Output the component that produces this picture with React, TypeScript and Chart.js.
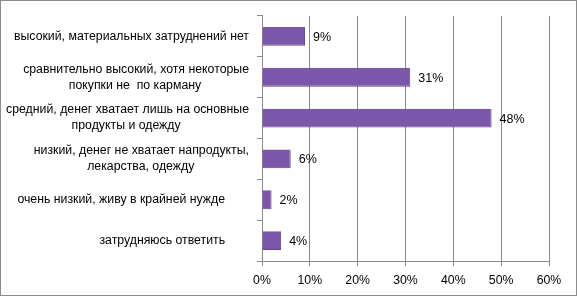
import React, { useEffect, useRef } from "react";
import { Chart, registerables } from "chart.js";

Chart.register(...registerables);

const categories: (string | string[])[] = [
  "высокий, материальных затруднений нет",
  ["сравнительно высокий, хотя некоторые", "покупки не  по карману"],
  ["средний, денег хватает лишь на основные", "продукты и одежду"],
  ["низкий, денег не хватает напродукты,", "лекарства, одежду"],
  "очень низкий, живу в крайней нужде",
  "затрудняюсь ответить",
];
const values = [9, 31, 48, 6, 2, 4];
const xTicks = [0, 10, 20, 30, 40, 50, 60];

const FONT = "'Liberation Sans', Arial, sans-serif";
const LABEL_SIZE = 12.3;

// measure helper for centring wrapped lines of a right-aligned label block
const measureCanvas = typeof document !== "undefined" ? document.createElement("canvas") : null;
function padLines(label: string | string[], extraRight: number): string | string[] {
  const ctx = measureCanvas!.getContext("2d")!;
  ctx.font = `${LABEL_SIZE}px ${FONT}`;
  const space = ctx.measureText(" ").width;
  const lines = Array.isArray(label) ? label : [label];
  const widths = lines.map((l) => ctx.measureText(l).width);
  const maxW = Math.max(...widths);
  const out = lines.map((l, i) => {
    const pad = (maxW - widths[i]) / 2 + extraRight;
    const n = Math.max(0, Math.round(pad / space));
    return l + "\u00a0".repeat(n);
  });
  return Array.isArray(label) ? out : out[0];
}

const valueLabels = {
  id: "valueLabels",
  afterDatasetsDraw(chart: any) {
    const ctx = chart.ctx;
    const meta = chart.getDatasetMeta(0);
    ctx.save();
    ctx.font = `12.5px ${FONT}`;
    ctx.fillStyle = "#000";
    ctx.textBaseline = "middle";
    ctx.textAlign = "left";
    meta.data.forEach((el: any, i: number) => {
      ctx.fillText(values[i] + "%", el.x + 8, el.y + 1);
    });
    ctx.restore();
  },
};

export default function App() {
  const ref = useRef<HTMLCanvasElement>(null);
  useEffect(() => {
    document.body.style.margin = "0";
    const chart = new Chart(ref.current!, {
      type: "bar",
      data: {
        labels: categories,
        datasets: [
          {
            data: values,
            backgroundColor: "#7C56A8",
            borderColor: "#64428C",
            borderWidth: { top: 0, left: 0, right: 1, bottom: 1 } as any,
            barPercentage: 0.46,
            categoryPercentage: 1,
          },
        ],
      },
      plugins: [valueLabels],
      options: {
        indexAxis: "y",
        animation: false,
        responsive: false,
        devicePixelRatio: 1,
        layout: { padding: { left: 0, right: 28, top: 15, bottom: 0 } },
        plugins: { legend: { display: false }, tooltip: { enabled: false } },
        scales: {
          x: {
            min: 0,
            max: 60,
            afterFit: (s: any) => {
              s.height = 35;
            },
            afterBuildTicks: (s: any) => {
              s.ticks = xTicks.map((v) => ({ value: v }));
            },
            grid: { color: "#8a8a8a", lineWidth: 1, tickLength: 5 },
            border: { color: "#8a8a8a" },
            ticks: {
              callback: (v: any) => v + "%",
              color: "#000",
              font: { family: FONT, size: 12.3 },
              padding: 7,
            },
          },
          y: {
            afterFit: (s: any) => {
              s.width = 262;
            },
            grid: {
              drawOnChartArea: false,
              drawTicks: true,
              tickLength: 5,
              color: "#8a8a8a",
              offset: true,
            },
            border: { color: "#8a8a8a" },
            ticks: {
              color: "#000",
              font: { family: FONT, size: LABEL_SIZE, lineHeight: 1.3 },
              padding: 8,
              crossAlign: "near",
              callback: (_v: any, i: number) => padLines(categories[i], i >= 4 ? 23 : 0),
            },
          },
        },
      },
    });
    return () => chart.destroy();
  }, []);
  return (
    <div style={{ position: "relative", width: 577, height: 296 }}>
      <canvas ref={ref} width={577} height={296} style={{ display: "block" }} />
      <div
        style={{
          position: "absolute",
          left: 0,
          top: 0,
          width: 575,
          height: 294,
          border: "1px solid #8c8c8c",
          pointerEvents: "none",
        }}
      />
    </div>
  );
}
